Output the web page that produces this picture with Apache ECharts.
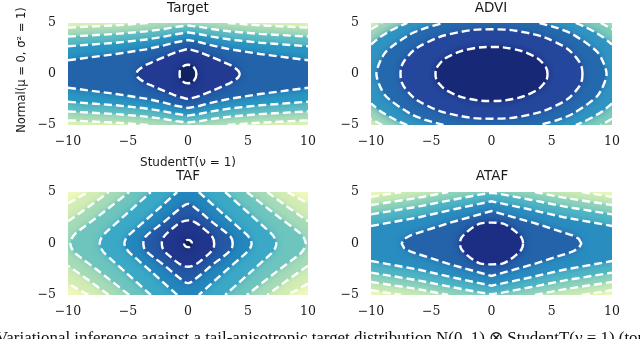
<!DOCTYPE html>
<html><head><meta charset="utf-8">
<script src="https://cdn.jsdelivr.net/npm/echarts@6/dist/echarts.min.js"></script>
<style>html,body{margin:0;padding:0;background:#fff}#c{width:640px;height:339px}</style>
</head><body><div id="c"></div>
<script>
// ---------------- data ----------------
const xTicks = [-10, -5, 0, 5, 10];
const yTicks = [-5, 0, 5];
const panelTitles = ['Target', 'ADVI', 'TAF', 'ATAF'];
const xLabel = 'StudentT(ν = 1)';
const yLabel = 'Normal(μ = 0, σ² = 1)';
const caption = 'Variational inference against a tail-anisotropic target distribution N(0, 1) ⊗ StudentT(ν = 1) (top';

const BOX = [[-10,-5],[10,-5],[10,5],[-10,5]];

// Target contours
const tgtCircle = [[0.7,0],[0.5,0.64],[0,0.9],[-0.5,0.64],[-0.7,0],[-0.5,-0.64],[0,-0.9],[0.5,-0.64]];
const tgtDiamond = [[4.3,0],[4.22,0.27],[4,0.52],[3.5,0.9],[3,1.15],[2,1.65],[1,2.13],[0,2.44],[-1,2.13],[-2,1.65],[-3,1.15],[-3.5,0.9],[-4,0.52],[-4.22,0.27],[-4.3,0],[-4.22,-0.27],[-4,-0.52],[-3.5,-0.9],[-3,-1.15],[-2,-1.65],[-1,-2.13],[0,-2.44],[1,-2.13],[2,-1.65],[3,-1.15],[3.5,-0.9],[4,-0.52],[4.22,-0.27]];
const tgtO1Up = [[-10,1.35],[-6,1.96],[-3.5,2.42],[-2,2.8],[-1,3.11],[0,3.33],[1,3.11],[2,2.8],[3.5,2.42],[6,1.96],[10,1.35]];
const tgtO1Dn = [[-10,-1.35],[-6,-1.96],[-3.5,-2.42],[-2,-2.8],[-1,-3.11],[0,-3.33],[1,-3.11],[2,-2.8],[3.5,-2.42],[6,-1.96],[10,-1.35]];
const tgtO2Up = [[-10,2.72],[-6,3.07],[-3.5,3.38],[-2,3.66],[-1,3.9],[0,4.08],[1,3.9],[2,3.66],[3.5,3.38],[6,3.07],[10,2.72]];
const tgtO2Dn = [[-10,-2.72],[-6,-3.07],[-3.5,-3.38],[-2,-3.66],[-1,-3.9],[0,-4.08],[1,-3.9],[2,-3.66],[3.5,-3.38],[6,-3.07],[10,-2.72]];
const tgtO3Up = [[-10,3.67],[-6,3.93],[-3.5,4.18],[-2,4.41],[-1,4.62],[0,4.76],[1,4.62],[2,4.41],[3.5,4.18],[6,3.93],[10,3.67]];
const tgtO3Dn = [[-10,-3.67],[-6,-3.93],[-3.5,-4.18],[-2,-4.41],[-1,-4.62],[0,-4.76],[1,-4.62],[2,-4.41],[3.5,-4.18],[6,-3.93],[10,-3.67]];
const tgtO4UpL = [[-10,4.55],[-6,4.77],[-3.3,5]];
const tgtO4UpR = [[3.3,5],[6,4.77],[10,4.55]];
const tgtO4DnL = [[-10,-4.55],[-6,-4.77],[-3.3,-5]];
const tgtO4DnR = [[3.3,-5],[6,-4.77],[10,-4.55]];

// ADVI contours
const advE1 = [[4.65,0],[4.3,1.01],[3.29,1.87],[1.78,2.45],[0,2.65],[-1.78,2.45],[-3.29,1.87],[-4.3,1.01],[-4.65,0],[-4.3,-1.01],[-3.29,-1.87],[-1.78,-2.45],[0,-2.65],[1.78,-2.45],[3.29,-1.87],[4.3,-1.01]];
const advE2 = [[7.55,0],[6.98,1.68],[5.34,3.1],[2.89,4.05],[0,4.38],[-2.89,4.05],[-5.34,3.1],[-6.98,1.68],[-7.55,0],[-6.98,-1.68],[-5.34,-3.1],[-2.89,-4.05],[0,-4.38],[2.89,-4.05],[5.34,-3.1],[6.98,-1.68]];
const advE3R = [[3.98,5],[5.5,4.5],[6.75,3.89],[8.82,2.1],[9.55,0],[8.82,-2.1],[6.75,-3.89],[5.5,-4.5],[3.98,-5]];
const advE3L = [[-3.98,-5],[-5.5,-4.5],[-6.75,-3.89],[-8.82,-2.1],[-9.55,0],[-8.82,2.1],[-6.75,3.89],[-5.5,4.5],[-3.98,5]];
const advE4TL = [[-10,2.88],[-9.3,3.57],[-8.5,4.17],[-7.7,4.65],[-6.99,5]];
const advE4TR = [[6.99,5],[7.7,4.65],[8.5,4.17],[9.3,3.57],[10,2.88]];
const advE4BR = [[10,-2.88],[9.3,-3.57],[8.5,-4.17],[7.7,-4.65],[6.99,-5]];
const advE4BL = [[-6.99,-5],[-7.7,-4.65],[-8.5,-4.17],[-9.3,-3.57],[-10,-2.88]];
const advE5TL = [[-10,4.38],[-9.5,4.73],[-9.07,5]];
const advE5TR = [[9.07,5],[9.5,4.73],[10,4.38]];
const advE5BR = [[10,-4.38],[9.5,-4.73],[9.07,-5]];
const advE5BL = [[-9.07,-5],[-9.5,-4.73],[-10,-4.38]];

// TAF contours
const tafRing = [[0.33,0],[0.23,0.25],[0,0.35],[-0.23,0.25],[-0.33,0],[-0.23,-0.25],[0,-0.35],[0.23,-0.25]];
const tafD1 = [[2.18,0],[2.05,0.6],[1.35,1.4],[0.6,2.05],[0,2.25],[-0.6,2.05],[-1.35,1.4],[-2.05,0.6],[-2.18,0],[-2.05,-0.6],[-1.35,-1.4],[-0.6,-2.05],[0,-2.25],[0.6,-2.05],[1.35,-1.4],[2.05,-0.6]];
const tafD2 = [[3.72,0],[3.55,0.65],[2.0,2.1],[0.6,3.45],[0,3.85],[-0.6,3.45],[-2.0,2.1],[-3.55,0.65],[-3.72,0],[-3.55,-0.65],[-2.0,-2.1],[-0.6,-3.45],[0,-3.85],[0.6,-3.45],[2.0,-2.1],[3.55,-0.65]];
const tafD3R = [[0.9,5],[2.95,2.85],[4.9,0.85],[5.2,0.4],[5.3,0],[5.2,-0.4],[4.9,-0.85],[2.95,-2.85],[0.9,-5]];
const tafD3L = [[-0.9,-5],[-2.95,-2.85],[-4.9,-0.85],[-5.2,-0.4],[-5.3,0],[-5.2,0.4],[-4.9,0.85],[-2.95,2.85],[-0.9,5]];
const tafD4R = [[3.1,5],[5.1,2.9],[6.95,0.95],[7.26,0.45],[7.36,0],[7.26,-0.45],[6.95,-0.95],[5.1,-2.9],[3.1,-5]];
const tafD4L = [[-3.1,-5],[-5.1,-2.9],[-6.95,-0.95],[-7.26,-0.45],[-7.36,0],[-7.26,0.45],[-6.95,0.95],[-5.1,2.9],[-3.1,5]];
const tafD5R = [[4.9,5],[7.25,2.85],[9.4,0.95],[9.7,0.45],[9.8,0],[9.7,-0.45],[9.4,-0.95],[7.25,-2.85],[4.9,-5]];
const tafD5L = [[-4.9,-5],[-7.25,-2.85],[-9.4,-0.95],[-9.7,-0.45],[-9.8,0],[-9.7,0.45],[-9.4,0.95],[-7.25,2.85],[-4.9,5]];
const tafD6TL = [[-10,2.15],[-8.3,3.55],[-6.6,5]];
const tafD6TR = [[6.6,5],[8.3,3.55],[10,2.15]];
const tafD6BR = [[10,-2.15],[8.3,-3.55],[6.6,-5]];
const tafD6BL = [[-6.6,-5],[-8.3,-3.55],[-10,-2.15]];
const tafD7TL = [[-10,3.9],[-8.3,5]];
const tafD7TR = [[8.3,5],[10,3.9]];
const tafD7BR = [[10,-3.9],[8.3,-5]];
const tafD7BL = [[-8.3,-5],[-10,-3.9]];

// ATAF contours
const atI = [[2.62,0],[2.5,0.55],[2.1,1.05],[1.5,1.6],[0.9,1.95],[0,2.03],[-0.9,1.95],[-1.5,1.6],[-2.1,1.05],[-2.5,0.55],[-2.62,0],[-2.5,-0.55],[-2.1,-1.05],[-1.5,-1.6],[-0.9,-1.95],[0,-2.03],[0.9,-1.95],[1.5,-1.6],[2.1,-1.05],[2.5,-0.55]];
const atL = [[7.45,0],[7.25,0.45],[6.7,0.8],[3.5,2.0],[0,3.15],[-3.5,2.0],[-6.7,0.8],[-7.25,0.45],[-7.45,0],[-7.25,-0.45],[-6.7,-0.8],[-3.5,-2.0],[0,-3.15],[3.5,-2.0],[6.7,-0.8],[7.25,-0.45]];
const atO1Up = [[-10,1.7],[-6,2.55],[-3,3.35],[-1,3.85],[0,4.1],[1,3.85],[3,3.35],[6,2.55],[10,1.7]];
const atO1Dn = [[-10,-1.7],[-6,-2.55],[-3,-3.35],[-1,-3.85],[0,-4.1],[1,-3.85],[3,-3.35],[6,-2.55],[10,-1.7]];
const atO2Up = [[-10,2.83],[-6,3.6],[-3,4.3],[-1,4.75],[0,4.93],[1,4.75],[3,4.3],[6,3.6],[10,2.83]];
const atO2Dn = [[-10,-2.83],[-6,-3.6],[-3,-4.3],[-1,-4.75],[0,-4.93],[1,-4.75],[3,-4.3],[6,-3.6],[10,-2.83]];
const atO3UpL = [[-10,3.73],[-6,4.45],[-3.6,5]];
const atO3UpR = [[3.6,5],[6,4.45],[10,3.73]];
const atO3DnL = [[-10,-3.73],[-6,-4.45],[-3.6,-5]];
const atO3DnR = [[3.6,-5],[6,-4.45],[10,-3.73]];
const atO4UpL = [[-10,4.53],[-7.5,5]];
const atO4UpR = [[7.5,5],[10,4.53]];
const atO4DnL = [[-10,-4.53],[-7.5,-5]];
const atO4DnR = [[7.5,-5],[10,-4.53]];

// ---------------- styles ----------------
const tgtColors = ['#e6f6b4','#b0deb5','#62bfc1','#2a97c3','#2263aa','#223a92','#0f2160'];
const advColors = [['#e2f4b2','#a4d9b8'],['#a0d7b8','#7ccbbb'],'#2f94c2','#2468ad','#24469c','#172877'];
const tafColors = ['#f0f9bc','#d3edb3','#a6dbb7','#6ec5be','#3ba9c6','#2387bd','#2359a5','#20358c','#0c1c58'];
const atColors = ['#f0f9ba','#cbebb4','#93d4b9','#50b6c4','#2a8dc0','#2463aa','#1c2e84'];
const blurPx = 9;

const rev = a => a.slice().reverse();

const panels = [
  { // Target
    fills: [BOX, tgtO4UpL.concat(tgtO4UpR, rev(tgtO4DnR), rev(tgtO4DnL)), tgtO3Up.concat(rev(tgtO3Dn)),
            tgtO2Up.concat(rev(tgtO2Dn)), tgtO1Up.concat(rev(tgtO1Dn)), tgtDiamond, tgtCircle],
    fillSmooth: [0,0,0,0,0,0.15,0.5],
    colors: tgtColors,
    lines: [tgtO4UpL,tgtO4UpR,tgtO4DnL,tgtO4DnR,tgtO3Up,tgtO3Dn,tgtO2Up,tgtO2Dn,tgtO1Up,tgtO1Dn,tgtDiamond,tgtCircle],
    closed: [0,0,0,0,0,0,0,0,0,0,1,1],
    lineSmooth: [0,0,0,0,0,0,0,0,0,0,0.15,0.5]
  },
  { // ADVI
    fills: [BOX, advE5TL.concat(advE5TR, advE5BR, advE5BL), advE4TL.concat(advE4TR, advE4BR, advE4BL),
            advE3R.concat(advE3L), advE2, advE1],
    fillSmooth: [0,0,0,0,0.45,0.45],
    colors: advColors,
    lines: [advE5TL,advE5TR,advE5BR,advE5BL,advE4TL,advE4TR,advE4BR,advE4BL,advE3R,advE3L,advE2,advE1],
    closed: [0,0,0,0,0,0,0,0,0,0,1,1],
    lineSmooth: [0,0,0,0,0.2,0.2,0.2,0.2,0.25,0.25,0.45,0.45]
  },
  { // TAF
    fills: [BOX, tafD7TL.concat(tafD7TR, tafD7BR, tafD7BL), tafD6TL.concat(tafD6TR, tafD6BR, tafD6BL),
            tafD5R.concat(tafD5L), tafD4R.concat(tafD4L), tafD3R.concat(tafD3L), tafD2, tafD1, tafRing],
    fillSmooth: [0,0,0,0,0,0,0.35,0.4,0.5],
    colors: tafColors,
    lines: [tafD7TL,tafD7TR,tafD7BR,tafD7BL,tafD6TL,tafD6TR,tafD6BR,tafD6BL,tafD5R,tafD5L,tafD4R,tafD4L,tafD3R,tafD3L,tafD2,tafD1,tafRing],
    closed: [0,0,0,0,0,0,0,0,0,0,0,0,0,0,1,1,1],
    lineSmooth: [0,0,0,0,0,0,0,0,0.2,0.2,0.2,0.2,0.2,0.2,0.35,0.4,0.5]
  },
  { // ATAF
    fills: [BOX, atO4UpL.concat(atO4UpR, rev(atO4DnR), rev(atO4DnL)), atO3UpL.concat(atO3UpR, rev(atO3DnR), rev(atO3DnL)),
            atO2Up.concat(rev(atO2Dn)), atO1Up.concat(rev(atO1Dn)), atL, atI],
    fillSmooth: [0,0,0,0,0,0,0.3],
    colors: atColors,
    lines: [atO4UpL,atO4UpR,atO4DnL,atO4DnR,atO3UpL,atO3UpR,atO3DnL,atO3DnR,atO2Up,atO2Dn,atO1Up,atO1Dn,atL,atI],
    closed: [0,0,0,0,0,0,0,0,0,0,0,0,1,1],
    lineSmooth: [0,0,0,0,0,0,0,0,0,0,0,0,0,0.3]
  }
];

const grids = [
  {left: 68, top: 23, width: 240, height: 102},
  {left: 371, top: 23, width: 241, height: 102},
  {left: 68, top: 192, width: 240, height: 103},
  {left: 371, top: 192, width: 241, height: 103}
];

const fmt = v => String(v).replace('-', '\u2212');
const tickFont = {fontFamily: 'DejaVu Serif', fontSize: 12.5, color: '#1a1a1a'};

function paint(c) {
  if (Array.isArray(c)) {
    return {fill: new echarts.graphic.LinearGradient(0, 0, 1, 0, [{offset: 0, color: c[0]}, {offset: 1, color: c[1]}]), glow: c[1]};
  }
  return {fill: c, glow: c};
}

const series = [];
panels.forEach((p, gi) => {
  series.push({
    type: 'custom', coordinateSystem: 'cartesian2d', xAxisIndex: gi, yAxisIndex: gi,
    clip: true, silent: true, z: 1,
    data: p.fills.map(poly => poly[0]),
    renderItem: function (params, api) {
      const i = params.dataIndex;
      const sm = p.fillSmooth[i];
      const shape = {points: p.fills[i].map(pt => api.coord(pt))};
      if (sm) shape.smooth = sm;
      const pc = paint(p.colors[i]);
      const style = {fill: pc.fill};
      if (i > 0) { style.shadowBlur = blurPx; style.shadowColor = pc.glow; }
      return {type: 'polygon', shape: shape, style: style};
    }
  });
  series.push({
    type: 'custom', coordinateSystem: 'cartesian2d', xAxisIndex: gi, yAxisIndex: gi,
    clip: true, silent: true, z: 2,
    data: p.lines.map(l => l[0]),
    renderItem: function (params, api) {
      const i = params.dataIndex;
      const sm = p.lineSmooth[i];
      const shape = {points: p.lines[i].map(pt => api.coord(pt))};
      if (sm) shape.smooth = sm;
      return {type: p.closed[i] ? 'polygon' : 'polyline', shape: shape,
        style: {fill: 'none', stroke: '#ffffff', lineWidth: 2.4, lineDash: [8, 4], lineCap: 'butt'}};
    }
  });
});

const titleCenters = [[188, 8], [491, 8], [188, 176], [492, 176]];
const graphic = panelTitles.map((t, i) => ({
  type: 'text', x: titleCenters[i][0], y: titleCenters[i][1], silent: true,
  style: {text: t, font: '13.5px "DejaVu Sans"', fill: '#1a1a1a', align: 'center', verticalAlign: 'middle'}
}));
graphic.push({type: 'text', x: 188, y: 163, silent: true,
  style: {text: xLabel, font: '12px "DejaVu Sans"', fill: '#1a1a1a', align: 'center', verticalAlign: 'middle'}});
graphic.push({type: 'text', x: 22, y: 70, rotation: Math.PI / 2, silent: true,
  style: {text: yLabel, font: '11.5px "DejaVu Sans"', fill: '#1a1a1a', align: 'center', verticalAlign: 'middle'}});
graphic.push({type: 'text', x: -4, y: 339, silent: true,
  style: {text: caption, font: '16.9px "Liberation Serif"', fill: '#111', align: 'left', verticalAlign: 'middle'}});

const option = {
  animation: false,
  backgroundColor: '#ffffff',
  grid: grids,
  xAxis: grids.map((g, i) => ({
    gridIndex: i, type: 'value', min: xTicks[0], max: xTicks[xTicks.length - 1], interval: xTicks[1] - xTicks[0],
    axisLine: {show: false}, axisTick: {show: false}, splitLine: {show: false},
    axisLabel: Object.assign({margin: 10, formatter: fmt}, tickFont)
  })),
  yAxis: grids.map((g, i) => ({
    gridIndex: i, type: 'value', min: yTicks[0], max: yTicks[yTicks.length - 1], interval: yTicks[1] - yTicks[0],
    axisLine: {show: false}, axisTick: {show: false}, splitLine: {show: false},
    axisLabel: Object.assign({margin: 12, formatter: fmt}, tickFont)
  })),
  graphic: graphic,
  series: series
};

const chart = echarts.init(document.getElementById('c'), null, {renderer: 'canvas'});
chart.setOption(option);
</script>
</body></html>
